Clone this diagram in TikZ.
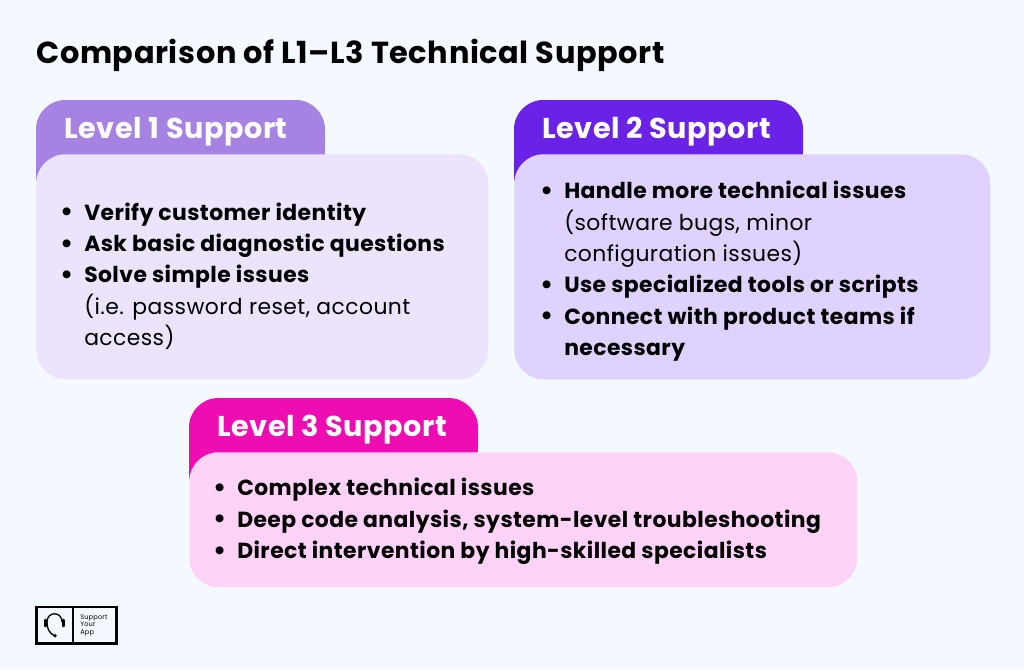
\documentclass[tikz,border=0pt]{standalone}
\usepackage{fontspec}
\setmainfont{Poppins}[LetterSpace=2]
\usepackage{xcolor}
\usetikzlibrary{positioning,calc}

\definecolor{pagebg}{HTML}{F4F9FF}
\definecolor{tabone}{HTML}{A682E2}
\definecolor{cardone}{HTML}{ECE3FC}
\definecolor{tabtwo}{HTML}{6A22E6}
\definecolor{cardtwo}{HTML}{E0D2FE}
\definecolor{tabthree}{HTML}{EE0DB3}
\definecolor{cardthree}{HTML}{FFD3F7}

\newcommand{\bulletline}[1]{\makebox[0pt][r]{\raisebox{-2pt}{\fontsize{24}{24}\selectfont\textbullet}\hspace{8pt}}\textbf{#1}}

\begin{document}
\begin{tikzpicture}[
    x=0.75pt, y=-0.75pt,
    tab/.style={rounded corners=22pt},
    card/.style={rectangle, rounded corners=22pt, inner sep=0pt, anchor=north west},
    tabtext/.style={text=white, font=\fontsize{21.5}{25}\selectfont\bfseries, inner sep=0pt, anchor=base west},
    cardtext/.style={text=black, font=\fontsize{16.4}{23.5}\selectfont, align=left, inner sep=0pt, anchor=north west},
    logobox/.style={rectangle, draw=black, line width=1.8pt, inner sep=0pt, outer sep=0pt, minimum height=27.5pt, anchor=north west}
]
    \useasboundingbox (0,0) rectangle (1024,669);
    \fill[pagebg] (0,0) rectangle (1024,669);

    % Title
    \node[inner sep=0pt, anchor=base west, font=\fontsize{22.8}{26}\selectfont\bfseries] (title) at (36,63) {Comparison of L1–L3 Technical Support};

    % Level 1
    \fill[tab, tabone] (36,180) -- (36,100) -- (325,100) -- (325,180) [sharp corners] -- cycle;
    \node[card, fill=cardone, minimum width=339pt, minimum height=168.75pt] (cardA) at (36,154) {};
    \node[tabtext] (labelA) at (64,138) {Level 1 Support};
    \node[cardtext] (textA) at (84,202.5) {\bulletline{Verify customer identity}\\
        \bulletline{Ask basic diagnostic questions}\\
        \bulletline{Solve simple issues}\\
        (i.e. password reset, account\\
        access)};

    % Level 2
    \fill[tab, tabtwo] (514,180) -- (514,100) -- (803,100) -- (803,180) [sharp corners] -- cycle;
    \node[card, fill=cardtwo, minimum width=357pt, minimum height=168.75pt] (cardB) at (514,154) {};
    \node[tabtext] (labelB) at (542,138) {Level 2 Support};
    \node[cardtext] (textB) at (564,181) {\bulletline{Handle more technical issues}\\
        (software bugs, minor\\
        configuration issues)\\
        \bulletline{Use specialized tools or scripts}\\
        \bulletline{Connect with product teams if}\\
        \textbf{necessary}};

    % Level 3
    \fill[tab, tabthree] (189,478) -- (189,398) -- (478,398) -- (478,478) [sharp corners] -- cycle;
    \node[card, fill=cardthree, minimum width=501pt, minimum height=101.25pt] (cardC) at (189,452) {};
    \node[tabtext] (labelC) at (217,436) {Level 3 Support};
    \node[cardtext] (textC) at (237,478) {\bulletline{Complex technical issues}\\
        \bulletline{Deep code analysis, system-level troubleshooting}\\
        \bulletline{Direct intervention by high-skilled specialists}};

    % Logo
    \node[logobox, minimum width=27.4pt] (logoicon) at (36.5,607) {};
    \node[logobox, minimum width=32.6pt, right=0pt of logoicon] (logotext) {};
    \node[inner sep=0pt, align=left, anchor=west, font=\fontsize{5}{5.6}\selectfont] (logoname) at ($(logotext.west)+(7,0)$) {Support\\Your\\App};
    \draw[line width=1pt] (62,622) .. controls (62,611) and (47,611) .. (47,622) .. controls (47,628) and (49,633) .. (54,635.5);
    \draw[line width=2.2pt, line cap=round] (45.5,620) -- (45.5,626);
    \draw[line width=2.2pt, line cap=round] (63.5,620) -- (63.5,626);
    \fill (55,635.8) circle[radius=1.4pt];
\end{tikzpicture}
\end{document}
